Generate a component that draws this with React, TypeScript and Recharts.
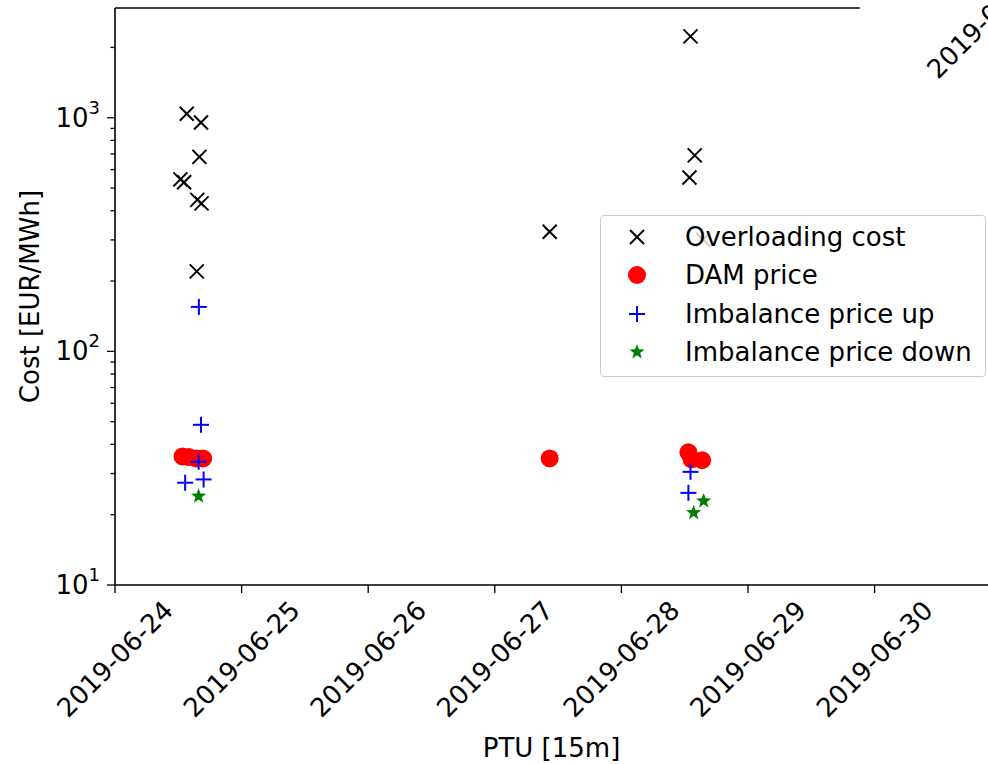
import React from 'react';
import { ScatterChart, Scatter, XAxis, YAxis, Legend, ReferenceLine, Label } from 'recharts';

const FONT = '"DejaVu Sans", sans-serif';
const FS = 26;

// x values: hours since 2019-06-24 00:00
const dateTickHours = [0, 24, 48, 72, 96, 120, 144];
const dateTickLabels = ['2019-06-24', '2019-06-25', '2019-06-26', '2019-06-27', '2019-06-28', '2019-06-29', '2019-06-30'];
const X_MAX = 165.5;
const TOP_SPINE_END = 141.2;

const yMajorTicks = [10, 100, 1000];
const yMajorExponents = ['1', '2', '3'];
const yMinorTicks = [20, 30, 40, 50, 60, 70, 80, 90, 200, 300, 400, 500, 600, 700, 800, 900, 2000];
const Y_MIN = 10;
const Y_MAX = 2950;

const overloadHours = [13.6, 16.3, 16.0, 12.4, 13.1, 15.6, 16.4, 15.5, 82.4, 109.1, 109.9, 108.9, 111.5];
const overloadCost = [1040, 955, 680, 545, 530, 445, 430, 220, 325, 2230, 690, 555, 300];

const damHours = [12.8, 14.0, 15.4, 16.7, 82.4, 108.7, 109.3, 111.3];
const damPrice = [35.5, 35.3, 34.8, 34.8, 34.8, 37.0, 34.5, 34.2];

const upHours = [15.9, 16.3, 15.85, 16.8, 13.3, 109.1, 108.7];
const upPrice = [155, 48.5, 33.7, 28.3, 27.4, 30.5, 24.8];

const downHours = [15.85, 111.6, 109.7];
const downPrice = [24.0, 22.9, 20.4];

const seriesNames = ['Overloading cost', 'DAM price', 'Imbalance price up', 'Imbalance price down'];
const cornerLabel = '2019-0';

const toPoints = (xs: number[], ys: number[]) => xs.map((x, i) => ({ x, y: ys[i] }));
const overloadData = toPoints(overloadHours, overloadCost);
const damData = toPoints(damHours, damPrice);
const upData = toPoints(upHours, upPrice);
const downData = toPoints(downHours, downPrice);

const drawX = (cx: number, cy: number) => {
  const r = 7;
  return (
    <g>
      <line x1={cx - r} y1={cy - r} x2={cx + r} y2={cy + r} stroke="#000" strokeWidth={2} />
      <line x1={cx - r} y1={cy + r} x2={cx + r} y2={cy - r} stroke="#000" strokeWidth={2} />
    </g>
  );
};
const drawCircle = (cx: number, cy: number) => <circle cx={cx} cy={cy} r={9} fill="#ff0000" />;
const drawPlus = (cx: number, cy: number) => {
  const r = 8;
  return (
    <g>
      <line x1={cx - r} y1={cy} x2={cx + r} y2={cy} stroke="#0000ff" strokeWidth={2} />
      <line x1={cx} y1={cy - r} x2={cx} y2={cy + r} stroke="#0000ff" strokeWidth={2} />
    </g>
  );
};
const drawStar = (cx: number, cy: number) => {
  const outer = 8;
  const inner = 3.3;
  const pts: string[] = [];
  for (let i = 0; i < 10; i++) {
    const r = i % 2 === 0 ? outer : inner;
    const a = -Math.PI / 2 + (i * Math.PI) / 5;
    pts.push(`${cx + r * Math.cos(a)},${cy + r * Math.sin(a)}`);
  }
  return <polygon points={pts.join(' ')} fill="#008000" />;
};
const drawers = [drawX, drawCircle, drawPlus, drawStar];

const shapeOf = (fn: (cx: number, cy: number) => React.ReactElement) => (props: any) => fn(props.cx, props.cy);

const YTick = (props: any) => {
  const { x, y, payload } = props;
  const idx = yMajorTicks.indexOf(payload.value);
  const major = idx >= 0;
  const len = major ? 8 : 4.5;
  return (
    <g>
      <line x1={x - len} x2={x} y1={y} y2={y} stroke="#000" strokeWidth={1.3} />
      {major && (
        <text x={x - 15} y={y + 9} textAnchor="end" fontFamily={FONT} fontSize={FS} fill="#000">
          10
          <tspan dy={-13} fontSize={18}>{yMajorExponents[idx]}</tspan>
        </text>
      )}
    </g>
  );
};

const XTick = (props: any) => {
  const { x, y, payload } = props;
  const idx = dateTickHours.indexOf(payload.value);
  const cy = y + 74;
  return (
    <g>
      <line x1={x} x2={x} y1={y} y2={y + 8} stroke="#000" strokeWidth={1.3} />
      <text
        x={x}
        y={cy}
        transform={`rotate(-45 ${x} ${cy})`}
        textAnchor="middle"
        dominantBaseline="central"
        fontFamily={FONT}
        fontSize={FS}
        fill="#000"
      >
        {dateTickLabels[idx]}
      </text>
    </g>
  );
};

const renderLegend = () => (
  <div
    style={{
      boxSizing: 'border-box',
      width: 386,
      height: 162,
      background: 'rgba(255,255,255,0.8)',
      border: '1.5px solid #cccccc',
      borderRadius: 4,
      fontFamily: FONT,
      fontSize: FS,
      color: '#000',
      paddingTop: 2,
    }}
  >
    {seriesNames.map((name, i) => (
      <div key={name} style={{ display: 'flex', alignItems: 'center', height: 38.3 }}>
        <svg width={24} height={24} style={{ marginLeft: 24, marginRight: 36 }}>
          {drawers[i](12, 12)}
        </svg>
        <span style={{ whiteSpace: 'nowrap' }}>{name}</span>
      </div>
    ))}
  </div>
);

export default function App() {
  return (
    <div style={{ position: 'absolute', left: 0, top: 0, width: 988, height: 764, background: '#fff' }}>
      <ScatterChart width={988} height={764} margin={{ top: 8, right: 0, bottom: 0, left: 0 }}>
        <XAxis
          type="number"
          dataKey="x"
          domain={[0, X_MAX]}
          ticks={dateTickHours}
          interval={0}
          tick={<XTick />}
          tickSize={0}
          tickMargin={0}
          tickLine={false}
          axisLine={{ stroke: '#000', strokeWidth: 1.6 }}
          height={179}
          allowDataOverflow
        >
          <Label
            content={(p: any) => {
              const vb = p.viewBox || { x: 115, width: 873 };
              return (
                <text x={vb.x + vb.width / 2} y={757} textAnchor="middle" fontFamily={FONT} fontSize={FS} fill="#000">
                  PTU [15m]
                </text>
              );
            }}
          />
        </XAxis>
        <YAxis
          type="number"
          dataKey="y"
          scale="log"
          domain={[Y_MIN, Y_MAX]}
          ticks={[...yMajorTicks, ...yMinorTicks].sort((a, b) => a - b)}
          interval={0}
          tick={<YTick />}
          tickSize={0}
          tickMargin={0}
          tickLine={false}
          axisLine={{ stroke: '#000', strokeWidth: 1.6 }}
          width={115}
          allowDataOverflow
        >
          <Label
            content={(p: any) => {
              const vb = p.viewBox || { y: 8, height: 577 };
              const cy = vb.y + vb.height / 2;
              return (
                <text
                  x={30}
                  y={cy}
                  transform={`rotate(-90 30 ${cy})`}
                  textAnchor="middle"
                  dominantBaseline="central"
                  fontFamily={FONT}
                  fontSize={FS}
                  fill="#000"
                >
                  Cost [EUR/MWh]
                </text>
              );
            }}
          />
        </YAxis>
        <ReferenceLine
          segment={[{ x: 0, y: Y_MAX }, { x: TOP_SPINE_END, y: Y_MAX }]}
          stroke="#000"
          strokeWidth={1.6}
          ifOverflow="visible"
        />
        <Scatter name={seriesNames[0]} data={overloadData} shape={shapeOf(drawX)} isAnimationActive={false} />
        <Scatter name={seriesNames[1]} data={damData} shape={shapeOf(drawCircle)} isAnimationActive={false} />
        <Scatter name={seriesNames[2]} data={upData} shape={shapeOf(drawPlus)} isAnimationActive={false} />
        <Scatter name={seriesNames[3]} data={downData} shape={shapeOf(drawStar)} isAnimationActive={false} />
        <Legend
          layout="horizontal"
          align="center"
          verticalAlign="middle"
          content={renderLegend}
          wrapperStyle={{ position: 'absolute', left: 600, top: 215, width: 386, height: 162 }}
        />
      </ScatterChart>
      <svg width={988} height={100} style={{ position: 'absolute', left: 0, top: 0, pointerEvents: 'none' }}>
        <text x={938} y={80} transform="rotate(-45 938 80)" fontFamily={FONT} fontSize={FS} fill="#000">
          {cornerLabel}
        </text>
      </svg>
    </div>
  );
}
